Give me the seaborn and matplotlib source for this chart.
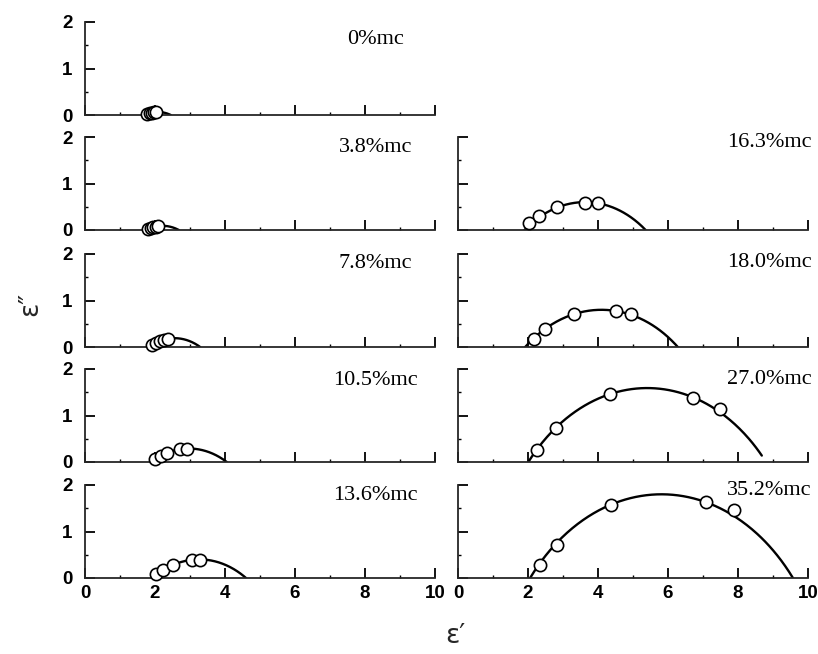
import numpy as np
import pandas as pd
import matplotlib
matplotlib.use("Agg")
import matplotlib.pyplot as plt
import seaborn as sns
from matplotlib.ticker import MultipleLocator

# Moisture content of each sample
moisture = ["0%mc", "3.8%mc", "7.8%mc", "10.5%mc", "13.6%mc",
            "16.3%mc", "18.0%mc", "27.0%mc", "35.2%mc"]

# Measured permittivity: real part (eps') and loss factor (eps'')
real_00 = [1.78, 1.85, 1.91, 1.97, 2.03]
imag_00 = [0.03, 0.04, 0.05, 0.06, 0.06]
real_38 = [1.81, 1.88, 1.95, 2.02, 2.09]
imag_38 = [0.03, 0.05, 0.06, 0.07, 0.08]
real_78 = [1.90, 2.02, 2.13, 2.25, 2.36]
imag_78 = [0.04, 0.09, 0.13, 0.16, 0.17]
real_105 = [2.00, 2.16, 2.35, 2.71, 2.90]
imag_105 = [0.06, 0.13, 0.20, 0.27, 0.27]
real_136 = [2.04, 2.22, 2.51, 3.06, 3.28]
imag_136 = [0.09, 0.17, 0.29, 0.39, 0.39]
real_163 = [2.04, 2.31, 2.83, 3.63, 4.01]
imag_163 = [0.14, 0.30, 0.50, 0.59, 0.57]
real_180 = [2.16, 2.49, 3.32, 4.52, 4.93]
imag_180 = [0.17, 0.39, 0.71, 0.77, 0.71]
real_270 = [2.27, 2.79, 4.35, 6.70, 7.49]
imag_270 = [0.26, 0.73, 1.46, 1.38, 1.13]
real_352 = [2.33, 2.82, 4.37, 7.08, 7.88]
imag_352 = [0.28, 0.72, 1.56, 1.63, 1.46]

real_parts = [real_00, real_38, real_78, real_105, real_136,
              real_163, real_180, real_270, real_352]
imag_parts = [imag_00, imag_38, imag_78, imag_105, imag_136,
              imag_163, imag_180, imag_270, imag_352]

# Cole-Cole arcs: high-frequency limit, static permittivity, arc height,
# and the eps' value where the drawn arc ends
eps_inf = [1.72, 1.75, 1.82, 1.88, 1.93, 1.90, 1.92, 2.01, 2.06]
eps_s = [2.45, 2.68, 3.29, 4.05, 4.60, 5.36, 6.28, 8.80, 9.57]
arc_height = [0.065, 0.09, 0.19, 0.29, 0.40, 0.60, 0.80, 1.59, 1.80]
arc_stop = [2.45, 2.68, 3.29, 4.05, 4.60, 5.36, 6.28, 8.68, 9.57]

# Panel grid: (row, column) of each sample
panel_row = [0, 1, 2, 3, 4, 1, 2, 3, 4]
panel_col = [0, 0, 0, 0, 0, 1, 1, 1, 1]

x_ticks = [0, 2, 4, 6, 8, 10]
y_ticks = [0, 1, 2]


def cole_cole_arc(e_inf, e_s, height, stop, n=200):
    """Circular arc through (e_inf, 0) and (e_s, 0) with the given height."""
    half = (e_s - e_inf) / 2.0
    xc = (e_inf + e_s) / 2.0
    depth = (half ** 2 - height ** 2) / (2.0 * height)
    radius = height + depth
    x = np.linspace(e_inf, stop, n)
    y = np.sqrt(np.clip(radius ** 2 - (x - xc) ** 2, 0, None)) - depth
    return pd.DataFrame({"eps_real": x, "eps_imag": np.clip(y, 0, None)})


sns.set_theme(style="ticks")
plt.rcParams["font.family"] = ["Liberation Sans", "DejaVu Sans"]
plt.rcParams["axes.linewidth"] = 1.3

fig = plt.figure(figsize=(8.18, 6.54), dpi=100)

col_left = [85 / 818, 458 / 818]
ax_w = 350 / 818
row_bottom = [115, 230, 347, 462, 578]
ax_h = 93 / 654
label_x = [8.3, 8.9]
label_y = [1.62, 1.77, 1.80, 1.75, 1.78, 1.88, 1.82, 1.78, 1.88]

for i, label in enumerate(moisture):
    r, c = panel_row[i], panel_col[i]
    ax = fig.add_axes([col_left[c], 1 - row_bottom[r] / 654, ax_w, ax_h])

    arc = cole_cole_arc(eps_inf[i], eps_s[i], arc_height[i], arc_stop[i])
    sns.lineplot(data=arc, x="eps_real", y="eps_imag", sort=False,
                 estimator=None, color="black", linewidth=1.7, ax=ax)

    pts = pd.DataFrame({"eps_real": real_parts[i], "eps_imag": imag_parts[i]})
    sns.scatterplot(data=pts, x="eps_real", y="eps_imag", marker="o", s=78,
                    color="white", edgecolor="black", linewidth=1.2,
                    zorder=3, clip_on=False, ax=ax)

    ax.set_xlim(0, 10)
    ax.set_ylim(0, 2)
    ax.set_xticks(x_ticks)
    ax.set_yticks(y_ticks)
    ax.xaxis.set_minor_locator(MultipleLocator(1))
    ax.yaxis.set_minor_locator(MultipleLocator(0.5))
    ax.tick_params(which="major", direction="in", length=7, width=1.3,
                   labelsize=13.5, color="black", labelcolor="black")
    ax.tick_params(axis="y", which="major", pad=9)
    ax.tick_params(axis="x", which="major", pad=5)
    ax.tick_params(which="minor", direction="in", length=2.5, width=1.0,
                   color="black")
    for tl in ax.get_xticklabels() + ax.get_yticklabels():
        tl.set_fontweight("bold")
    sns.despine(ax=ax)
    ax.set_xlabel("")
    ax.set_ylabel("")
    if r != 4:
        ax.tick_params(axis="x", labelbottom=False)
    if c == 1:
        ax.tick_params(axis="y", labelleft=False)

    ax.text(label_x[c], label_y[i], label, ha="center", va="center",
            fontsize=16, family=["Liberation Serif", "DejaVu Serif"],
            color="black")

fig.text(0.037, 0.535, "ε″", rotation=90, ha="center", va="center",
         fontsize=19, family=["DejaVu Sans"])
fig.text(0.557, 0.028, "ε′", ha="center", va="center",
         fontsize=19, family=["DejaVu Sans"])

fig.savefig("out.png", dpi=100, facecolor="white")
